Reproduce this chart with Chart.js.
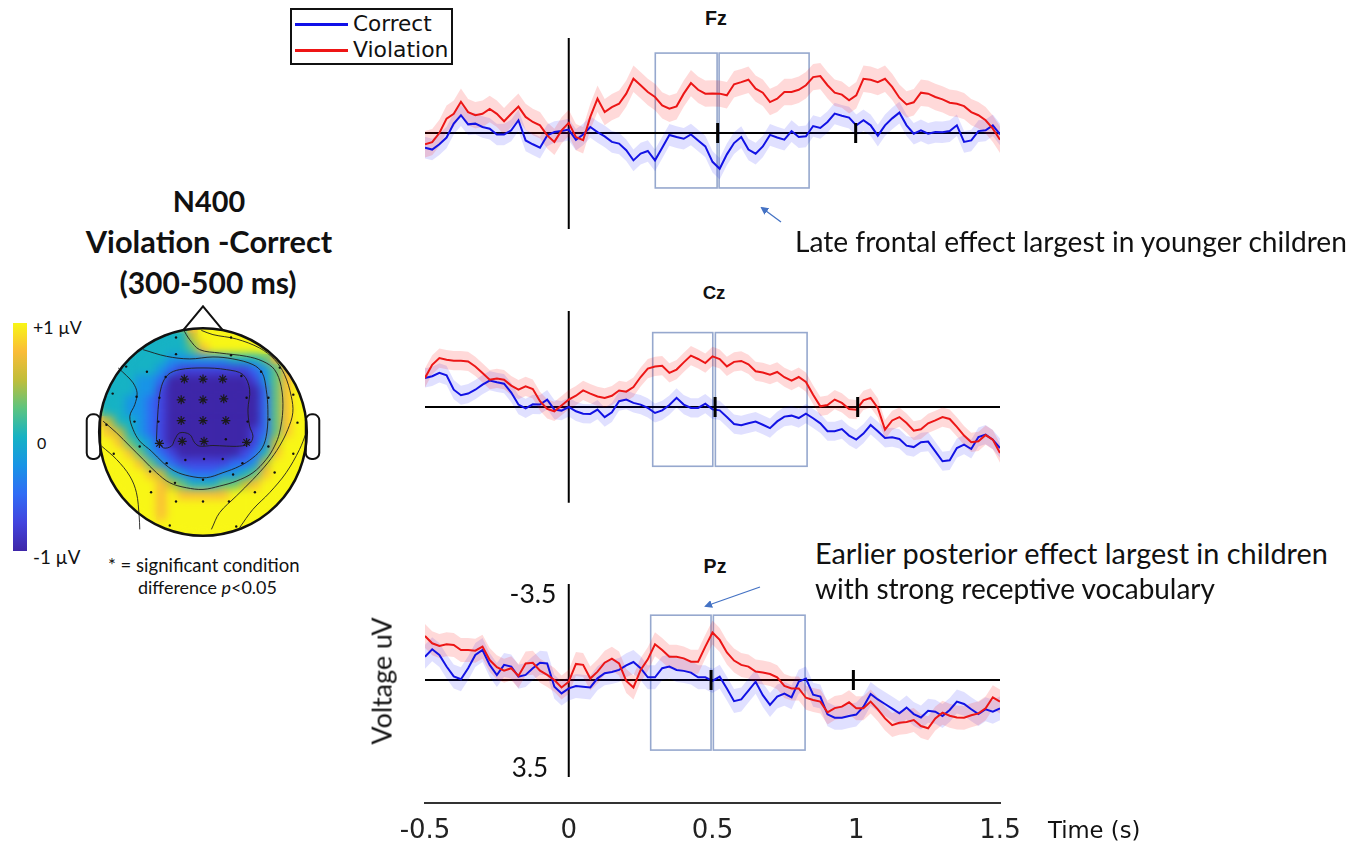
<!DOCTYPE html>
<html>
<head>
<meta charset="utf-8">
<title>N400 Violation - Correct</title>
<script src="https://cdn.jsdelivr.net/npm/chart.js@4.4.1/dist/chart.umd.min.js"></script>
<style>
  html, body { margin: 0; padding: 0; background: #fff; }
  #page { position: relative; width: 1362px; height: 844px; overflow: hidden; font-family: Lato, sans-serif; color: #111; }
  .abs { position: absolute; }
  .txt { position: absolute; white-space: nowrap; line-height: 1; }
  .c { transform: translate(-50%, -50%); }
  .l { transform: translateY(-50%); }
  .b { font-weight: 700; }
  .rot { transform: translate(-50%, -50%) rotate(-90deg); }
  .dv { font-family: 'DejaVu Sans', sans-serif; }
  canvas { display: block; }
</style>
</head>
<body>
<div id="page">

  <!-- topographic map side -->
  <div class="txt c b" style="left:209px;top:201px;font-size:28px" data-w="72">N400</div>
  <div class="txt c b" style="left:209px;top:242px;font-size:28px" data-w="246">Violation -Correct</div>
  <div class="txt c b" style="left:208px;top:282px;font-size:28px" data-w="177">(300-500 ms)</div>

  <div class="abs" id="colorbar" style="left:13px;top:323px;width:14px;height:228px;"></div>
  <div class="txt l" style="left:33px;top:328px;font-size:16px" data-w="49">+1 µV</div>
  <div class="txt l" style="left:37px;top:443px;font-size:16px" data-w="9">0</div>
  <div class="txt l" style="left:33px;top:557px;font-size:16px" data-w="47">-1 µV</div>
  <div class="txt l" style="left:108px;top:565px;font-size:16px" data-w="192">* = significant condition</div>
  <div class="txt l" style="left:138px;top:588px;font-size:16px" data-w="139">difference <i>p</i>&lt;0.05</div>

  <div class="abs" style="left:70px;top:295px;width:260px;height:260px;"><canvas id="topo" width="260" height="260"></canvas></div>

  <!-- legend -->
  <div class="abs" style="left:290px;top:8px;width:159px;height:53px;border:2px solid #111;"></div>
  <div class="abs" style="left:295px;top:23px;width:53px;height:3px;background:#1010e8;"></div>
  <div class="abs" style="left:295px;top:49px;width:53px;height:3px;background:#ee1515;"></div>
  <div class="txt l dv" style="left:353px;top:24px;font-size:21px" data-w="79">Correct</div>
  <div class="txt l dv" style="left:353px;top:50px;font-size:21px" data-w="95">Violation</div>

  <!-- ERP panels -->
  <div class="txt c b" style="left:716px;top:19px;font-size:17px;font-family:'Liberation Sans',sans-serif" data-w="22">Fz</div>
  <div class="txt c b" style="left:714px;top:293px;font-size:17px;font-family:'Liberation Sans',sans-serif" data-w="23">Cz</div>
  <div class="txt c b" style="left:715px;top:567px;font-size:17px;font-family:'Liberation Sans',sans-serif" data-w="23">Pz</div>

  <div class="abs" style="left:365px;top:37px;width:700px;height:192px;"><canvas id="fz" width="700" height="192"></canvas></div>
  <div class="abs" style="left:365px;top:311px;width:700px;height:192px;"><canvas id="cz" width="700" height="192"></canvas></div>
  <div class="abs" style="left:365px;top:584px;width:700px;height:260px;"><canvas id="pz" width="700" height="260"></canvas></div>

  <div class="txt c" style="left:533px;top:593px;font-size:26px" data-w="47">-3.5</div>
  <div class="txt c" style="left:530px;top:767px;font-size:26px" data-w="36">3.5</div>
  <div class="txt rot" style="left:382px;top:681px;font-size:26px" data-w="127">Voltage uV</div>
  <div class="txt l dv" style="left:1048px;top:830px;font-size:21px" data-w="92">Time (s)</div>

  <!-- annotations -->
  <div class="txt l" style="left:795px;top:241px;font-size:26px" data-w="552">Late frontal effect largest in younger children</div>
  <div class="txt l" style="left:815px;top:553px;font-size:26px" data-w="513">Earlier posterior effect largest in children</div>
  <div class="txt l" style="left:815px;top:589px;font-size:26px" data-w="400">with strong receptive vocabulary</div>

  <svg class="abs" style="left:0;top:0" width="1362" height="844">
    <defs>
      <marker id="ah" markerWidth="8" markerHeight="8" refX="6" refY="4" orient="auto" markerUnits="userSpaceOnUse">
        <path d="M0,0 L8,4 L0,8 Z" fill="#4472c4"/>
      </marker>
    </defs>
    <line x1="781" y1="222" x2="762" y2="208" stroke="#4472c4" stroke-width="1.3" marker-end="url(#ah)"/>
    <line x1="760" y1="587" x2="706" y2="606" stroke="#4472c4" stroke-width="1.3" marker-end="url(#ah)"/>
  </svg>
</div>

<script>
// time axis (s)
const times = [-0.5,-0.475,-0.45,-0.425,-0.4,-0.375,-0.35,-0.325,-0.3,-0.275,
  -0.25,-0.225,-0.2,-0.175,-0.15,-0.125,-0.1,-0.075,-0.05,-0.025,
  0,0.025,0.05,0.075,0.1,0.125,0.15,0.175,0.2,0.225,
  0.25,0.275,0.3,0.325,0.35,0.375,0.4,0.425,0.45,0.475,
  0.5,0.525,0.55,0.575,0.6,0.625,0.65,0.675,0.7,0.725,
  0.75,0.775,0.8,0.825,0.85,0.875,0.9,0.925,0.95,0.975,
  1,1.025,1.05,1.075,1.1,1.125,1.15,1.175,1.2,1.225,
  1.25,1.275,1.3,1.325,1.35,1.375,1.4,1.425,1.45,1.475,1.5];
const timeTicks = [-0.5, 0, 0.5, 1, 1.5];
const timeTickLabels = ['-0.5', '0', '0.5', '1', '1.5'];

// voltages (uV), negative plotted up
const fzViolation = [0.47,0.38,0.00,-0.60,-0.80,-1.30,-0.87,-0.74,-0.80,-1.00,
  -0.80,-0.49,-0.80,-1.10,-0.67,-0.46,-0.32,0.10,0.37,-0.11,
  -0.42,0.17,0.30,-0.67,-1.43,-0.87,-1.08,-1.22,-1.64,-2.26,
  -1.99,-1.71,-1.50,-1.15,-1.01,-1.11,-1.64,-2.08,-1.80,-1.64,
  -1.65,-1.64,-1.57,-2.03,-2.12,-2.22,-1.85,-1.68,-1.29,-1.43,
  -1.71,-1.71,-1.80,-1.99,-2.33,-2.37,-1.99,-1.68,-1.60,-1.36,
  -1.57,-2.26,-2.22,-2.12,-2.26,-1.92,-1.47,-1.19,-1.28,-1.68,
  -1.64,-1.50,-1.40,-1.26,-1.22,-1.12,-0.87,-0.74,-0.53,-0.18,0.28];
const fzCorrect = [0.61,0.69,0.47,0.19,-0.39,-0.74,-0.36,-0.39,-0.25,-0.18,
  0.06,0.06,-0.11,-0.53,0.31,0.47,0.61,0.10,-0.04,-0.08,
  -0.14,0.28,0.06,-0.25,-0.04,0.14,0.37,0.44,0.72,1.14,
  0.86,0.75,1.14,0.61,0.08,0.17,0.24,0.06,0.31,0.56,
  1.20,1.49,0.89,0.42,0.17,0.69,0.86,0.56,0.08,0.19,
  0.28,-0.08,0.17,0.14,-0.29,-0.21,-0.46,-0.81,-0.72,-0.64,
  -0.32,-0.53,-0.32,0.11,-0.32,-0.61,-0.85,-0.32,0.03,-0.11,
  0.03,-0.04,-0.03,-0.08,-0.32,0.37,0.31,-0.08,-0.11,-0.32,0.06];
const czViolation = [-1.21,-1.76,-2.04,-1.97,-1.93,-1.93,-1.90,-1.69,-1.42,-1.14,
  -1.19,-1.14,-0.89,-0.72,-0.86,-0.75,-0.24,0.08,0.18,-0.06,
  -0.31,-0.47,-0.69,-0.56,-0.44,-0.38,-0.47,-0.69,-0.64,-0.83,
  -1.25,-1.60,-1.69,-1.72,-1.42,-1.56,-1.86,-2.14,-2.00,-1.83,
  -2.11,-2.00,-1.69,-1.88,-1.92,-1.78,-1.49,-1.44,-1.35,-1.46,
  -1.24,-1.10,-1.25,-1.04,-0.51,-0.03,-0.08,-0.31,-0.17,0.08,
  0.11,-0.28,-0.38,0.04,0.94,0.56,0.42,0.67,0.99,0.93,
  0.68,0.56,0.42,0.50,0.83,1.19,1.47,1.43,1.17,1.36,1.92];
const czCorrect = [-1.21,-1.28,-1.42,-1.32,-0.72,-0.49,-0.56,-0.72,-0.93,-1.10,
  -1.03,-0.97,-0.60,-0.10,0.06,-0.11,-0.10,-0.31,0.11,0.15,
  0.00,0.18,0.28,0.29,0.11,0.42,0.22,-0.24,-0.31,-0.17,
  -0.10,0.04,0.25,0.14,-0.08,-0.38,-0.10,0.04,0.04,-0.14,
  0.10,0.14,0.42,0.71,0.76,0.68,0.61,0.74,0.88,0.60,
  0.40,0.36,0.46,0.28,0.47,0.68,1.01,1.01,0.92,1.19,
  1.36,1.11,0.75,1.01,1.29,1.26,1.33,1.61,1.67,1.47,
  1.44,1.85,2.26,2.22,1.71,1.57,1.75,1.25,1.15,1.36,1.71];
const pzViolation = [-1.83,-1.53,-1.42,-1.49,-1.46,-1.25,-1.25,-1.22,-1.39,-0.83,
  -0.53,-0.39,-0.49,-0.17,-0.69,-0.72,-0.39,-0.21,0.00,0.31,
  0.07,-0.67,-0.63,-0.06,-0.35,-0.72,-0.89,-0.69,0.04,0.31,
  -0.42,-0.86,-1.49,-1.25,-0.97,-0.97,-0.90,-0.76,-0.76,-1.39,
  -1.98,-1.67,-1.15,-0.81,-0.63,-0.56,-0.35,-0.31,-0.25,-0.11,
  0.25,0.35,0.35,0.74,0.83,0.90,1.35,1.17,1.11,0.93,
  1.18,1.18,0.90,1.22,1.60,1.88,1.78,1.75,1.67,1.92,
  2.01,1.60,1.36,1.49,1.56,1.57,1.47,1.39,1.18,0.72,0.90];
const pzCorrect = [-0.97,-1.28,-1.04,-0.56,-0.15,-0.03,-0.49,-1.04,-1.25,-0.63,
  -0.21,-0.63,-0.56,-0.14,-0.21,-0.49,-0.72,-0.69,0.28,0.56,
  0.35,0.25,0.28,0.31,-0.07,-0.28,-0.33,-0.42,-0.61,-0.75,
  -0.49,-0.11,-0.11,-0.49,-0.56,-0.42,-0.38,-0.31,-0.11,-0.11,
  0.04,-0.14,0.35,0.88,0.81,0.44,0.07,0.63,1.04,0.69,
  0.57,0.72,0.07,-0.06,0.61,0.69,1.43,1.57,1.57,1.50,
  1.44,1.11,0.58,0.81,1.00,1.19,1.39,1.15,1.42,1.56,
  1.28,1.32,1.50,1.25,0.90,1.00,1.22,1.42,1.22,1.32,1.18];

// standard error half-widths (uV): [violation, correct]
const fzSE = [0.55, 0.45];
const czSE = [0.40, 0.40];
const pzSE = [0.50, 0.50];

// topography levels, 0 = -1 uV ... 8 = +1 uV, rows top (front) to bottom (back)
const topoRows = [
  '444444445788888888888',
  '444444444688888888888',
  '444444444578888888888',
  '444444433333344457888',
  '444444321111111235788',
  '444433200000000135788',
  '444433100000000025788',
  '444332100000000025788',
  '544332100000000025788',
  '764432100000000025788',
  '876432100000000125788',
  '887543100000000136888',
  '888753210000001247888',
  '888875321111122368888',
  '888887643222334578888',
  '888888765444556788888',
  '888888787777788888888',
  '888888788888888888888',
  '888888788888888888888',
  '888888888888888888888',
  '888888888888888888888'
];
const levelColors = ['rgb(62,38,168)','rgb(66,68,222)','rgb(48,108,245)','rgb(24,148,230)',
  'rgb(22,178,196)','rgb(92,196,128)','rgb(192,190,58)','rgb(250,188,56)','rgb(248,246,22)'];

// contour lines (head units)
const contourCore = [[-0.448,-0.072],[-0.433,0.216],[-0.4,0.44],[-0.336,0.553],[-0.224,0.601],[0,0.617],
  [0.225,0.601],[0.385,0.553],[0.449,0.409],[0.433,0.216],[0.449,0.056],[0.481,-0.04],[0.449,-0.111],
  [0.353,-0.136],[0.225,-0.136],[0.096,-0.13],[-0.032,-0.136],[-0.08,-0.104],[-0.128,-0.024],
  [-0.224,-0.008],[-0.272,-0.072],[-0.304,-0.136],[-0.384,-0.152],[-0.448,-0.072]];
const contourBlue = [[-0.577,0.793],[-0.352,0.729],[-0.128,0.704],[0.096,0.723],[0.288,0.704],[0.481,0.649],
  [0.571,0.569],[0.609,0.409],[0.625,0.216],[0.615,-0.008],[0.571,-0.152],[0.481,-0.248],[0.353,-0.329],
  [0.192,-0.392],[0.033,-0.44],[-0.128,-0.425],[-0.272,-0.377],[-0.384,-0.296],[-0.496,-0.185],
  [-0.609,-0.088],[-0.673,0.024],[-0.705,0.152],[-0.657,0.264],[-0.635,0.377],[-0.673,0.473],
  [-0.737,0.543],[-0.817,0.617]];
const contourZero = [[-0.192,0.992],[-0.128,0.889],[-0.032,0.793],[0.16,0.761],[0.417,0.729],[0.577,0.681],
  [0.689,0.601],[0.753,0.44],[0.769,0.216],[0.737,-0.008],[0.689,-0.136],[0.609,-0.264],[0.481,-0.392],
  [0.321,-0.473],[0.16,-0.521],[0,-0.553],[-0.16,-0.537],[-0.32,-0.489],[-0.448,-0.392],[-0.577,-0.264],
  [-0.705,-0.136],[-0.833,-0.008],[-0.962,0.104]];
const contourRight1 = [[-0.016,0.979],[0.096,0.938],[0.321,0.896],[0.545,0.809],[0.689,0.697],[0.785,0.553],
  [0.85,0.345],[0.865,0.185],[0.817,0.024],[0.737,-0.136],[0.625,-0.296],[0.481,-0.457],[0.321,-0.617],
  [0.16,-0.777],[0.081,-0.938]];
const contourRight2 = [[0.994,-0.008],[0.93,-0.168],[0.801,-0.392],[0.641,-0.585],[0.481,-0.745],[0.353,-0.921]];
const contourLeft = [[-0.977,-0.136],[-0.833,-0.264],[-0.705,-0.425],[-0.641,-0.585],[-0.615,-0.809],[-0.609,-0.938]];

// electrode sites (head units, x right, y front)
const sigSites = [[-0.18,0.51],[0,0.51],[0.19,0.51],[-0.21,0.31],[0,0.31],[0.2,0.32],
  [-0.21,0.11],[0,0.11],[0.22,0.11],[-0.42,-0.11],[-0.2,-0.09],[0.01,-0.09],[0.42,-0.1]];
const otherSites = [[-0.26,0.91],[0.27,0.91],[-0.26,0.75],[0.27,0.74],[-0.74,0.63],[-0.54,0.58],
  [-0.36,0.53],[0.37,0.54],[0.56,0.58],[0.74,0.62],[-0.87,0.37],[-0.64,0.34],[-0.42,0.33],
  [0.42,0.33],[0.63,0.33],[0.87,0.36],[-0.93,0.07],[-0.66,0.1],[-0.43,0.1],[0.43,0.1],
  [0.64,0.12],[0.91,0.09],[-0.86,-0.21],[-0.61,-0.14],[0.22,-0.07],[0.63,-0.14],[0.87,-0.21],
  [-0.35,-0.3],[-0.17,-0.27],[0.01,-0.26],[0.19,-0.26],[0.38,-0.3],[-0.51,-0.38],[-0.27,-0.49],
  [0,-0.46],[0.29,-0.41],[0.69,-0.39],[-0.5,-0.58],[-0.26,-0.67],[0,-0.67],[0.25,-0.67],
  [0.5,-0.58],[-0.32,-0.9],[0.32,-0.91]];

const RED = 'rgb(236,22,22)';
const BLUE = 'rgb(18,18,228)';
const RED_BAND = 'rgba(255,0,0,0.15)';
const BLUE_BAND = 'rgba(0,0,255,0.12)';

// colour bar
document.getElementById('colorbar').style.background =
  'linear-gradient(to bottom,' + levelColors.slice().reverse().join(',') + ')';

// boxes, zero line, vertical axis and tick marks of an ERP panel
const erpFrame = {
  id: 'erpFrame',
  beforeDatasetsDraw(chart, args, o) {
    const {ctx, scales: {x, y}} = chart;
    ctx.save();
    ctx.strokeStyle = 'rgb(150,168,206)';
    ctx.lineWidth = 1.6;
    o.boxes.forEach(b => {
      const x0 = x.getPixelForValue(b[0]), x1 = x.getPixelForValue(b[1]);
      const y0 = y.getPixelForValue(o.boxV[0]), y1 = y.getPixelForValue(o.boxV[1]);
      ctx.strokeRect(x0, y0, x1 - x0, y1 - y0);
    });
    ctx.strokeStyle = '#000';
    ctx.lineWidth = 2;
    ctx.beginPath();
    ctx.moveTo(x.getPixelForValue(-0.5), y.getPixelForValue(0));
    ctx.lineTo(x.getPixelForValue(1.5), y.getPixelForValue(0));
    ctx.moveTo(x.getPixelForValue(0), y.getPixelForValue(o.axisV[0]));
    ctx.lineTo(x.getPixelForValue(0), y.getPixelForValue(o.axisV[1]));
    ctx.stroke();
    ctx.restore();
  },
  afterDatasetsDraw(chart, args, o) {
    const {ctx, scales: {x, y}} = chart;
    const y0 = y.getPixelForValue(0);
    ctx.save();
    ctx.strokeStyle = '#000';
    ctx.lineWidth = 3;
    ctx.beginPath();
    o.ticks.forEach(t => {
      const px = x.getPixelForValue(t);
      ctx.moveTo(px, y0 - 10);
      ctx.lineTo(px, y0 + 10);
    });
    ctx.stroke();
    ctx.restore();
  }
};

function lineData(arr, shift) {
  return times.map((t, i) => ({x: t, y: arr[i] + (shift || 0)}));
}

function erpChart(id, violation, correct, se, frame, yMax, showX) {
  const band = {borderWidth: 0, borderColor: 'transparent', pointRadius: 0, tension: 0};
  const xScale = {
    type: 'linear', min: -0.5, max: 1.5, display: showX,
    grid: {display: false, drawTicks: false},
    border: {display: true, color: '#333', width: 2},
    afterBuildTicks: s => { s.ticks = timeTicks.map(v => ({value: v})); },
    ticks: {padding: 13, color: '#222', maxRotation: 0, autoSkip: false,
            font: {family: 'DejaVu Sans', size: 26},
            callback: (v, i) => timeTickLabels[i]}
  };
  if (showX) xScale.afterFit = s => { s.height = 41; };
  return new Chart(document.getElementById(id), {
    type: 'line',
    data: {
      datasets: [
        {label: 'Violation', data: lineData(violation), borderColor: RED, borderWidth: 2, pointRadius: 0, fill: false, tension: 0},
        {label: 'Correct', data: lineData(correct), borderColor: BLUE, borderWidth: 2, pointRadius: 0, fill: false, tension: 0},
        Object.assign({data: lineData(violation, -se[0]), fill: '+1', backgroundColor: RED_BAND}, band),
        Object.assign({data: lineData(violation, se[0]), fill: false}, band),
        Object.assign({data: lineData(correct, -se[1]), fill: '+1', backgroundColor: BLUE_BAND}, band),
        Object.assign({data: lineData(correct, se[1]), fill: false}, band)
      ]
    },
    options: {
      responsive: false,
      animation: false,
      events: [],
      layout: {padding: {left: 60, right: 65, top: 0, bottom: 0}},
      plugins: {legend: {display: false}, tooltip: {enabled: false}, erpFrame: frame},
      scales: {
        x: xScale,
        y: {min: -4, max: yMax, reverse: true, display: false}
      }
    },
    plugins: [erpFrame]
  });
}

erpChart('fz', fzViolation, fzCorrect, fzSE,
  {boxes: [[0.301, 0.516], [0.523, 0.836]], boxV: [-3.33, 2.29], axisV: [-3.96, 4.04], ticks: [0.518, 0.998]}, 4, false);
erpChart('cz', czViolation, czCorrect, czSE,
  {boxes: [[0.292, 0.501], [0.51, 0.829]], boxV: [-3.1, 2.47], axisV: [-4.18, 3.99], ticks: [0.509, 1.005]}, 4, false);
erpChart('pz', pzViolation, pzCorrect, pzSE,
  {boxes: [[0.285, 0.495], [0.503, 0.822]], boxV: [-2.7, 2.92], axisV: [-4.17, 4.04], ticks: [0.495, 0.99]}, 5.125, true);

// ---- topographic map ----
const cells = [];
topoRows.forEach((row, j) => {
  for (let i = 0; i < row.length; i++) {
    cells.push({x: -1 + 0.1 * i, y: 1 - 0.1 * j, v: +row[i]});
  }
});

const contourSets = [contourCore, contourBlue, contourZero, contourRight1, contourRight2, contourLeft].map(c => ({
  type: 'line', data: c.map(p => ({x: p[0], y: p[1]})), borderColor: '#1e1e1e', borderWidth: 0.9,
  pointRadius: 0, fill: false, tension: 0.35, showLine: true
}));

const topoDatasets = [
  {label: 'p<0.05', data: sigSites.map(p => ({x: p[0], y: p[1]})), pointStyle: 'star',
   pointRadius: 4.5, borderColor: '#1a1a1a', borderWidth: 1.2},
  {label: 'electrodes', data: otherSites.map(p => ({x: p[0], y: p[1]})), pointStyle: 'circle',
   pointRadius: 1.2, backgroundColor: '#111', borderWidth: 0}
].concat(contourSets).concat([
  {label: 'difference', data: cells, pointStyle: 'rect', pointRadius: 7.6, borderWidth: 0,
   backgroundColor: c => levelColors[c.raw.v]}
]);
const CELL_INDEX = topoDatasets.length - 1;

const headPlugin = {
  id: 'head',
  beforeDatasetDraw(chart, args) {
    if (args.index !== CELL_INDEX) return;
    const {ctx, scales: {x, y}} = chart;
    const cx = x.getPixelForValue(0), cy = y.getPixelForValue(0);
    const r = x.getPixelForValue(1) - cx;
    ctx.save();
    ctx.beginPath();
    ctx.arc(cx, cy, r, 0, Math.PI * 2);
    ctx.clip();
  },
  afterDatasetDraw(chart, args) {
    if (args.index !== CELL_INDEX) return;
    const {ctx} = chart;
    const c = chart.canvas;
    const off = document.createElement('canvas');
    off.width = c.width; off.height = c.height;
    off.getContext('2d').drawImage(c, 0, 0);
    ctx.save();
    ctx.setTransform(1, 0, 0, 1, 0, 0);
    ctx.filter = 'blur(4px)';
    ctx.drawImage(off, 0, 0);
    ctx.restore();
    ctx.restore();
  },
  afterDraw(chart) {
    const {ctx, scales: {x, y}} = chart;
    const px = v => x.getPixelForValue(v), py = v => y.getPixelForValue(v);
    const cx = px(0), cy = py(0), r = px(1) - cx;
    ctx.save();
    ctx.strokeStyle = '#111';
    ctx.lineWidth = 2.5;
    ctx.beginPath();
    ctx.arc(cx, cy, r, 0, Math.PI * 2);
    ctx.stroke();
    ctx.lineWidth = 2;
    ctx.beginPath();
    ctx.moveTo(px(-0.19), py(0.982));
    ctx.lineTo(px(0), py(1.21));
    ctx.lineTo(px(0.19), py(0.982));
    ctx.stroke();
    [-1, 1].forEach(s => {
      const xa = px(s * 0.99), xb = px(s * 1.12);
      const left = Math.min(xa, xb), w = Math.abs(xb - xa);
      ctx.beginPath();
      ctx.roundRect(left, py(0.17), w, py(-0.26) - py(0.17), 6);
      ctx.stroke();
    });
    ctx.restore();
  }
};

new Chart(document.getElementById('topo'), {
  type: 'scatter',
  data: {datasets: topoDatasets},
  options: {
    responsive: false,
    animation: false,
    events: [],
    layout: {padding: {left: 24, right: 18, top: 28, bottom: 14}},
    plugins: {legend: {display: false}, tooltip: {enabled: false}},
    scales: {
      x: {min: -1.05, max: 1.05, display: false},
      y: {min: -1.05, max: 1.05, display: false}
    }
  },
  plugins: [headPlugin]
});

// match text widths to the reference
function fitTexts() {
  document.querySelectorAll('[data-w]').forEach(el => {
    const target = +el.dataset.w;
    const fs = parseFloat(getComputedStyle(el).fontSize);
    const w = el.offsetWidth;
    if (w > 0) el.style.fontSize = (fs * target / w).toFixed(2) + 'px';
  });
}
fitTexts();
if (document.fonts && document.fonts.ready) document.fonts.ready.then(fitTexts);
</script>
</body>
</html>
